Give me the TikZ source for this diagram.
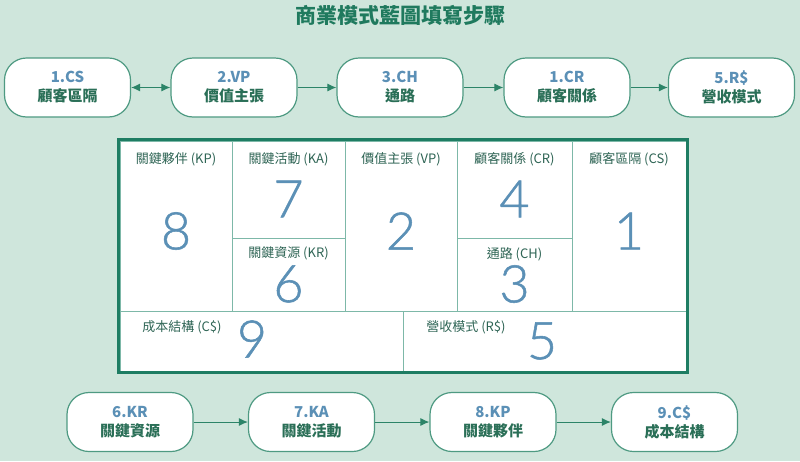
\documentclass[tikz,border=0pt]{standalone}
\usepackage{fontspec}
\setmainfont{Noto Sans CJK TC}
\newfontfamily\numfont[FakeBold=1]{Lato Light}
\usetikzlibrary{arrows.meta}
\definecolor{bg}{HTML}{CFE6DC}
\definecolor{titlegreen}{HTML}{1F7A5E}
\definecolor{boxborder}{HTML}{4E9A82}
\definecolor{arrowgreen}{HTML}{2C8468}
\definecolor{stepblue}{HTML}{5B90B6}
\definecolor{cjkgreen}{HTML}{2A6F57}
\definecolor{labelgreen}{HTML}{2F6555}
\definecolor{innerline}{HTML}{7DB8A8}
\definecolor{outerline}{HTML}{1E7D63}
\tikzset{
  stepbox/.style={draw=boxborder, line width=1.2pt, fill=white, rounded corners=22pt,
    minimum width=126pt, minimum height=59pt, inner sep=0pt, align=center,
    font=\fontsize{15}{20}\selectfont\bfseries},
  flow/.style={draw=arrowgreen, line width=1pt, -{Latex[length=9pt,width=8pt]}},
  flowboth/.style={draw=arrowgreen, line width=1pt, {Latex[length=9pt,width=8pt]}-{Latex[length=9pt,width=8pt]}},
  cell/.style={draw=innerline, line width=1pt, fill=white},
  celllabel/.style={text=labelgreen, font=\fontsize{13}{15}\selectfont, inner sep=0pt},
  bignum/.style={text=stepblue, font=\numfont\fontsize{52}{52}\selectfont, inner sep=0pt},
}
\newcommand{\steptext}[2]{{\color{stepblue}#1}\\[-1pt]{\color{cjkgreen}#2}}
\begin{document}
\begin{tikzpicture}[x=1pt,y=-1pt]
\fill[bg] (0,0) rectangle (800,461);
\useasboundingbox (0,0) rectangle (800,461);
% title
\node[text=titlegreen, font=\fontsize{21}{24}\selectfont\bfseries] (title) at (400,15) {商業模式藍圖填寫步驟};
% top row
\node[stepbox] (s1) at (67.5,87.5) {\steptext{1.CS}{顧客區隔}};
\node[stepbox] (s2) at (234,87.5) {\steptext{2.VP}{價值主張}};
\node[stepbox] (s3) at (400,87.5) {\steptext{3.CH}{通路}};
\node[stepbox] (s4) at (567,87.5) {\steptext{1.CR}{顧客關係}};
\node[stepbox] (s5) at (731.5,87.5) {\steptext{5.R\$}{營收模式}};
\draw[flowboth] (s1) -- (s2);
\draw[flow] (s2) -- (s3);
\draw[flow] (s3) -- (s4);
\draw[flow] (s4) -- (s5);
% bottom row
\node[stepbox] (s6) at (130,422) {\steptext{6.KR}{關鍵資源}};
\node[stepbox] (s7) at (311.5,422) {\steptext{7.KA}{關鍵活動}};
\node[stepbox] (s8) at (493,422) {\steptext{8.KP}{關鍵夥伴}};
\node[stepbox] (s9) at (674.5,422) {\steptext{9.C\$}{成本結構}};
\draw[flow] (s6) -- (s7);
\draw[flow] (s7) -- (s8);
\draw[flow] (s8) -- (s9);
% canvas grid
\fill[white] (120,141) rectangle (686,371);
\draw[cell] (120,141) rectangle (232,311);
\draw[cell] (232,141) rectangle (345,238);
\draw[cell] (232,238) rectangle (345,311);
\draw[cell] (345,141) rectangle (457,311);
\draw[cell] (457,141) rectangle (572,238);
\draw[cell] (457,238) rectangle (572,311);
\draw[cell] (572,141) rectangle (686,311);
\draw[cell] (120,311) rectangle (403,371);
\draw[cell] (403,311) rectangle (686,371);
\draw[outerline, line width=3.5pt] (118.5,139.5) rectangle (687.5,372.5);
% labels
\node[celllabel] (lkp) at (176,159) {關鍵夥伴 (KP)};
\node[celllabel] (lka) at (288.5,159) {關鍵活動 (KA)};
\node[celllabel] (lkr) at (288.5,253) {關鍵資源 (KR)};
\node[celllabel] (lvp) at (401,159) {價值主張 (VP)};
\node[celllabel] (lcr) at (514.5,159) {顧客關係 (CR)};
\node[celllabel] (lch) at (514.5,254) {通路 (CH)};
\node[celllabel] (lcs) at (629,159) {顧客區隔 (CS)};
\node[celllabel] (lcost) at (182,327) {成本結構 (C\$)};
\node[celllabel] (lrev) at (466,327) {營收模式 (R\$)};
% numbers
\node[bignum] (n8) at (176,231) {8};
\node[bignum] (n7) at (288.5,199) {7};
\node[bignum] (n6) at (288.5,284) {6};
\node[bignum] (n2) at (401,231) {2};
\node[bignum] (n4) at (514.5,199) {4};
\node[bignum] (n3) at (514.5,284) {3};
\node[bignum] (n1) at (629,231) {1};
\node[bignum] (n9) at (252,339) {9};
\node[bignum] (n5) at (542,341) {5};
\end{tikzpicture}
\end{document}
